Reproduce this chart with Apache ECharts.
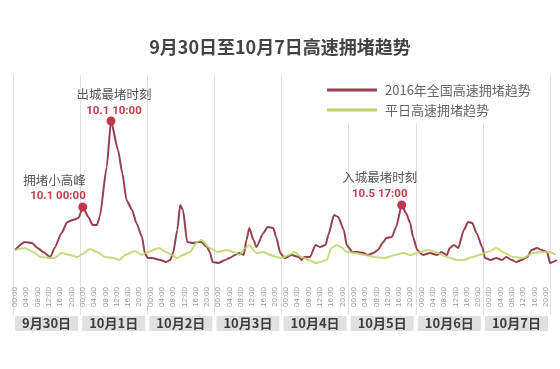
<!DOCTYPE html>
<html>
<head>
<meta charset="utf-8">
<script src="https://cdn.jsdelivr.net/npm/echarts@6/dist/echarts.min.js"></script>
<style>html,body{margin:0;padding:0;background:#fff;}#c{width:560px;height:369px;}</style>
</head>
<body>
<div id="c"></div>
<script>
// ---- data ----
const chartTitle = '9月30日至10月7日高速拥堵趋势';
const days = ['9月30日','10月1日','10月2日','10月3日','10月4日','10月5日','10月6日','10月7日'];
const hourTicks = ['00:00','04:00','08:00','12:00','16:00','20:00'];
const redName = '2016年全国高速拥堵趋势';
const greenName = '平日高速拥堵趋势';
// [hour since 9/30 00:00, congestion index]
const redTrend = [[0,3.0],[3.5,3.8],[6,3.7],[8,3.2],[10,2.8],[12.5,2.3],[14,3.2],[16.5,4.7],[18.5,5.8],[20.5,6.0],[22.5,6.2],[24,7.3],[26,6.3],[27.5,5.5],[29,5.5],[30,6.3],[32.5,11.3],[34,15.9],[36.5,13.0],[38,10.7],[39.5,8.0],[41.5,7.0],[43,5.7],[45,4.3],[46,2.7],[47,2.2],[48.5,2.2],[51.5,2.0],[53.5,1.8],[55,2.0],[56,2.7],[57.5,5.0],[58.5,7.5],[59.5,7.0],[61,3.8],[63,3.7],[65,3.8],[66,3.8],[68,3.3],[69,2.8],[70,1.8],[72,1.7],[74.5,2.0],[76,2.2],[78,2.5],[79.5,2.7],[81,2.5],[82,4.0],[83,5.2],[84.5,4.0],[85.5,3.3],[88,4.7],[89.5,5.3],[91.5,5.2],[92.5,4.3],[94,2.7],[95.5,2.2],[98,2.5],[100.5,2.3],[101.5,2.0],[102.5,2.3],[104.5,2.3],[106.5,3.5],[108,3.3],[110,3.5],[111,4.5],[113,6.5],[114.5,6.3],[116.5,5.0],[117.5,3.5],[119.5,2.8],[121.5,2.8],[123.5,2.7],[125,2.5],[127,2.7],[128.5,3.0],[130.5,3.8],[131.5,4.2],[133.5,4.3],[135,5.3],[137,7.5],[138.5,6.7],[140,5.7],[141,4.3],[142.5,3.0],[144.5,2.5],[147,2.7],[149.5,2.5],[151,2.8],[153,2.5],[154,3.2],[155.5,3.5],[157,3.2],[159,5.0],[160.5,5.8],[162,5.7],[163.5,4.7],[165.5,3.3],[166.5,2.2],[168.5,2.0],[170.5,2.2],[172.5,2.0],[174,2.3],[176,2.0],[177.5,1.8],[179.5,2.0],[181.5,2.3],[183,3.0],[185,3.2],[186.5,3.0],[188.5,2.8],[189.5,1.7],[190.5,1.8],[192,2.0]];
const greenTrend = [[0,3.0],[3.5,3.2],[6.5,2.8],[9,2.3],[12.5,2.2],[14,2.2],[16.5,2.7],[19.5,2.5],[22,2.3],[24,2.6],[26.5,3.1],[29,2.8],[32,2.3],[35,2.2],[37,2.0],[39,2.5],[42.5,2.9],[45,2.5],[47,2.8],[51,3.2],[53.5,2.8],[57.5,2.2],[59.5,2.5],[62,2.8],[64.5,3.8],[66,4.0],[69,3.2],[72,2.8],[75,3.0],[77.5,2.8],[79.5,2.5],[81.5,3.2],[83,3.5],[85.5,2.7],[88,2.8],[90.5,2.5],[92.5,2.3],[94.5,2.2],[97,2.5],[99,2.8],[101.5,2.3],[104,2.0],[106.5,1.7],[108,1.8],[110.5,2.0],[112,3.2],[114,3.5],[115.5,3.3],[117.5,2.8],[120.5,2.7],[124,2.5],[127.5,2.3],[131,2.2],[134.5,2.5],[137.5,2.7],[140,2.5],[143.5,2.8],[146.5,3.0],[149,2.8],[153,2.3],[156.5,2.0],[159,2.0],[162,2.3],[164.5,2.5],[167.5,2.8],[170.5,3.2],[173.5,2.7],[176.5,2.3],[180,2.2],[183.5,2.7],[187,2.8],[189.5,2.8],[191.5,2.5]];
const peakNames = ['拥堵小高峰','出城最堵时刻','入城最堵时刻'];
const peakTimes = ['10.1 00:00','10.1 10:00','10.5 17:00'];
const peakHours = [24,34,137];
const peakValues = [7.3,15.9,7.5];

// ---- styles ----
const cjk = "'Noto Sans CJK SC', sans-serif";
const narrow = "'Roboto','Liberation Sans',sans-serif";
const peakPlacement = [
  {align:'right', offset:[3,5]},
  {align:'center', offset:[3,5.5]},
  {align:'center', offset:[-22,4.5]}
];

const chart = echarts.init(document.getElementById('c'), null, {renderer:'canvas'});
chart.setOption({
  backgroundColor:'#fff',
  animation:false,
  title:{text:chartTitle, left:'center', top:33,
    textStyle:{fontSize:18, fontWeight:'bold', color:'#444', fontFamily:cjk}},
  legend:{orient:'vertical', left:320, top:75, padding:[8,7,6,7], backgroundColor:'#fff',
    itemWidth:50, itemHeight:3, itemGap:6, icon:'rect',
    textStyle:{fontSize:13, color:'#666', lineHeight:14, fontFamily:cjk, padding:[0,0,0,3]},
    data:[redName, greenName]},
  grid:[{left:15,right:3,top:80,bottom:89},{left:13,right:10,top:75,bottom:54}],
  xAxis:[
    {type:'value', gridIndex:0, min:0, max:192, interval:4,
     axisLine:{show:false}, axisTick:{show:false}, splitLine:{show:false},
     axisLabel:{rotate:90, fontSize:8, color:'#999', margin:7, showMaxLabel:false,
       fontFamily:"'Liberation Sans',sans-serif",
       formatter:v=>hourTicks[(v%24)/4]}},
    {type:'category', gridIndex:1, data:days, boundaryGap:true,
     axisLine:{show:false}, axisTick:{show:false},
     splitLine:{show:true, interval:0, lineStyle:{color:'#e0e0e0', width:1}},
     axisLabel:{margin:1, interval:0, backgroundColor:'#e0e0e0', width:63, height:15, lineHeight:15,
       fontSize:13, fontWeight:'bold', color:'#3d3d3d', align:'center', fontFamily:cjk}}
  ],
  yAxis:[
    {type:'value', gridIndex:0, min:0, max:20, show:false},
    {type:'value', gridIndex:1, show:false}
  ],
  series:[
    {name:redName, type:'line', xAxisIndex:0, yAxisIndex:0, data:redTrend, symbol:'none', z:3,
     smooth:0.2, smoothMonotone:'x',
     color:'#94404f', lineStyle:{color:'#94404f', width:2},
     markPoint:{symbol:'circle', symbolSize:9, itemStyle:{color:'#c0364a'},
       label:{show:true, position:'top', distance:3,
         rich:{a:{fontSize:12.5, color:'#555', lineHeight:17, fontFamily:cjk},
               b:{fontSize:11.5, fontWeight:'bold', color:'#c23d50', lineHeight:16, fontFamily:narrow}}},
       data:peakNames.map((n,i)=>({coord:[peakHours[i], peakValues[i]],
         label:{formatter:'{a|'+n+'}\n{b|'+peakTimes[i]+'}', align:peakPlacement[i].align, offset:peakPlacement[i].offset}}))}},
    {name:greenName, type:'line', xAxisIndex:0, yAxisIndex:0, data:greenTrend, symbol:'none', z:4,
     smooth:0.2, smoothMonotone:'x',
     color:'#bcd46a', lineStyle:{color:'#bcd46a', width:2, opacity:0.85}}
  ]
});
</script>
</body>
</html>
